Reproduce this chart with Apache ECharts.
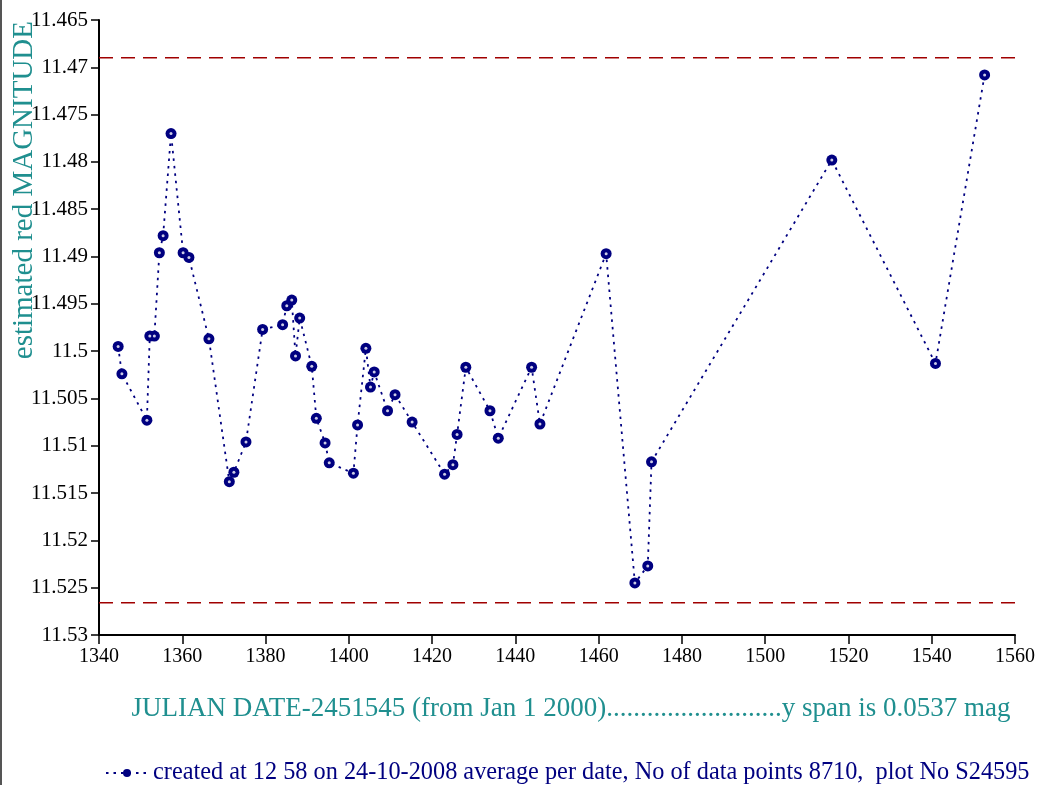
<!DOCTYPE html>
<html>
<head>
<meta charset="utf-8">
<script src="https://cdn.jsdelivr.net/npm/echarts@6/dist/echarts.min.js"></script>
<style>
html,body{margin:0;padding:0;background:#fff;}
#chart{width:1038px;height:785px;}
</style>
</head>
<body>
<div id="chart"></div>
<script>
// Julian date - 2451545
var julianDates = [1344.6, 1345.5, 1351.5, 1352.2, 1353.3, 1354.5, 1355.4, 1357.3, 1360.2, 1361.6,
  1366.4, 1371.3, 1372.4, 1375.3, 1379.3, 1384.1, 1385.1, 1386.3, 1387.2, 1388.2,
  1391.1, 1392.2, 1394.3, 1395.3, 1401.1, 1402.1, 1404.1, 1405.2, 1406.1, 1409.3,
  1411.1, 1415.2, 1423.0, 1425.0, 1426.0, 1428.1, 1433.9, 1435.9, 1443.9, 1445.9,
  1461.8, 1468.7, 1471.8, 1472.7, 1516.0, 1540.9, 1552.7];
// estimated red magnitude
var magnitudes = [11.4995, 11.5024, 11.5073, 11.4984, 11.4984, 11.4896, 11.4878, 11.4770, 11.4896, 11.4901,
  11.4987, 11.5138, 11.5128, 11.5096, 11.4977, 11.4972, 11.4952, 11.4946, 11.5005, 11.4965,
  11.5016, 11.5071, 11.5097, 11.5118, 11.5129, 11.5078, 11.4997, 11.5038, 11.5022, 11.5063,
  11.5046, 11.5075, 11.5130, 11.5120, 11.5088, 11.5017, 11.5063, 11.5092, 11.5017, 11.5077,
  11.4897, 11.5245, 11.5227, 11.5117, 11.4798, 11.5013, 11.4708];
// red dashed limit lines
var limitLines = [11.469, 11.5266];
// axis settings
var xTicks = {min: 1340, max: 1560, step: 20};
var yTicks = {min: 11.465, max: 11.53, step: 0.005};

var seriesName = 'created at 12 58 on 24-10-2008 average per date, No of data points 8710,  plot No S24595';
var xTitle = 'JULIAN DATE-2451545 (from Jan 1 2000)..........................y span is 0.0537 mag';
var yTitle = 'estimated red MAGNITUDE';

var serif = "'Liberation Serif','Times New Roman',serif";
var teal = '#1f8f8f';
var navy = '#000080';
var red = '#a00000';

var points = julianDates.map(function (d, i) { return [d, magnitudes[i]]; });

var limitSeries = limitLines.map(function (v, i) {
  return {
    name: 'limit' + i,
    type: 'line',
    data: [[xTicks.min, v], [xTicks.max, v]],
    symbol: 'none',
    silent: true,
    z: 1,
    lineStyle: {color: red, width: 1.5, type: [14, 8]}
  };
});

var chart = echarts.init(document.getElementById('chart'));
chart.setOption({
  backgroundColor: '#ffffff',
  animation: false,
  grid: {left: 99, right: 21, top: 20, bottom: 150, containLabel: false},
  legend: {
    left: 100, top: 756,
    itemWidth: 42, itemHeight: 10, itemGap: 5,
    textStyle: {color: navy, fontSize: 24.3, fontFamily: serif},
    data: [seriesName]
  },
  xAxis: {
    type: 'value',
    min: xTicks.min, max: xTicks.max, interval: xTicks.step,
    axisLine: {onZero: false, lineStyle: {color: '#000', width: 2}},
    axisTick: {length: 9, lineStyle: {color: '#000', width: 1.5}},
    splitLine: {show: false},
    axisLabel: {color: '#000', fontSize: 20, fontFamily: serif, margin: 12,
      formatter: function (v) { return String(v); }}
  },
  yAxis: {
    type: 'value',
    inverse: true,
    min: yTicks.min, max: yTicks.max, interval: yTicks.step,
    axisLine: {show: true, lineStyle: {color: '#000', width: 2}},
    axisTick: {show: true, length: 8, lineStyle: {color: '#000', width: 1.5}},
    splitLine: {show: false},
    axisLabel: {
      color: '#000', fontSize: 21, fontFamily: serif, margin: 11,
      formatter: function (v) { return String(parseFloat(v.toFixed(3))); }
    }
  },
  graphic: [
    {type: 'rect', left: 0, top: 0, shape: {width: 2, height: 785}, style: {fill: '#555'}, silent: true},
    {type: 'text', x: 24, y: 21, rotation: Math.PI / 2, z: 0,
     style: {text: yTitle, fill: teal, fontSize: 29, fontFamily: serif, textAlign: 'right', textVerticalAlign: 'middle'}},
    {type: 'text', x: 571, y: 709,
     style: {text: xTitle, fill: teal, fontSize: 27, fontFamily: serif, textAlign: 'center', textVerticalAlign: 'middle'}}
  ],
  series: limitSeries.concat([{
    name: seriesName,
    type: 'line',
    data: points,
    symbol: 'circle',
    symbolSize: 11,
    showAllSymbol: true,
    itemStyle: {color: navy},
    lineStyle: {color: navy, width: 1.8, type: [2.5, 5]},
    z: 3
  }, {
    name: 'centres',
    type: 'scatter',
    data: points,
    symbol: 'circle',
    symbolSize: 3,
    silent: true,
    itemStyle: {color: '#ffffff'},
    z: 4
  }])
});
</script>
</body>
</html>
